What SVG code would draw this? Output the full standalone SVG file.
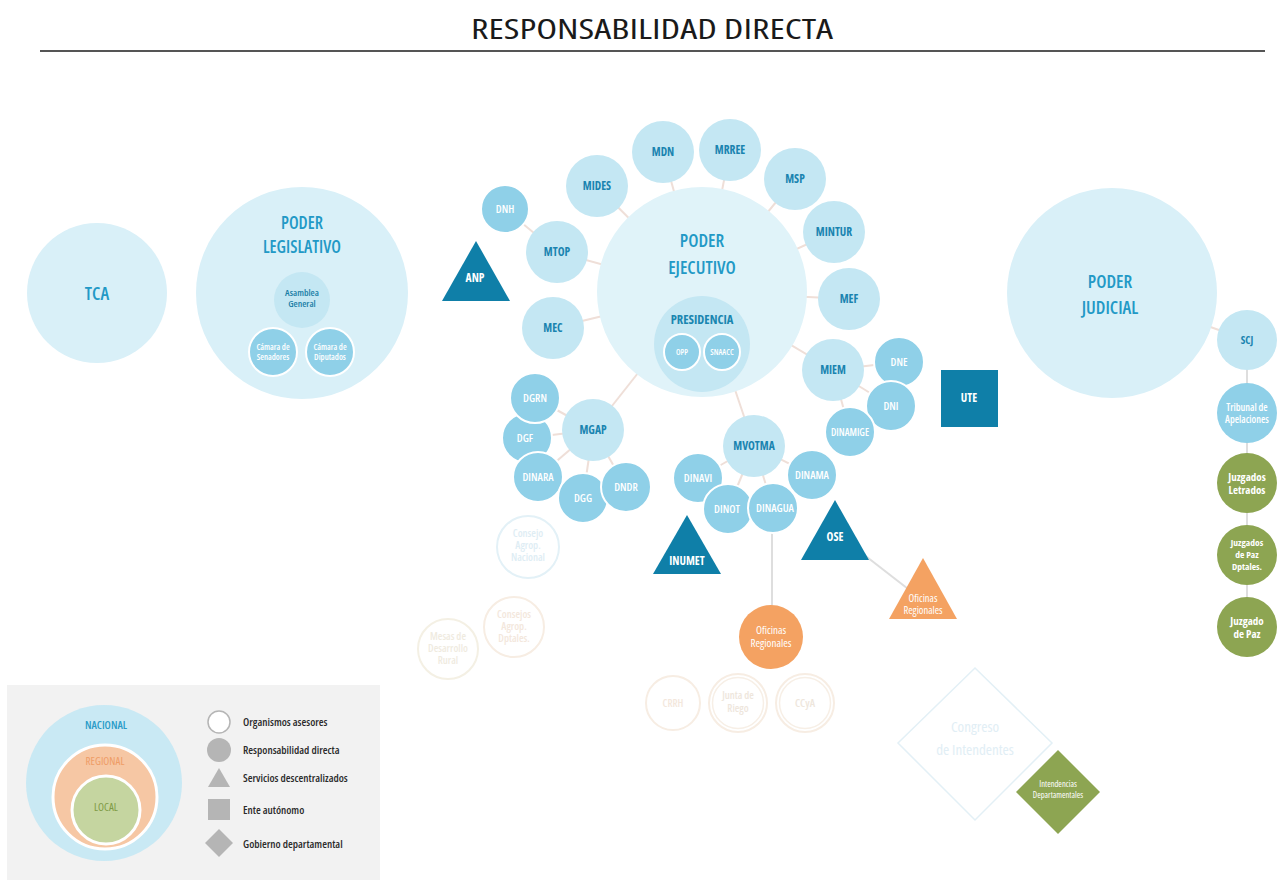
<svg xmlns="http://www.w3.org/2000/svg" width="1285" height="880" viewBox="0 0 1285 880">
  <style>
    text { font-family: "Open Sans", "Liberation Sans", sans-serif; font-stretch: 75%; text-anchor: middle; }
    .title { font-size: 28px; fill: #1a1a1a; font-weight: 500; font-stretch: 87.5%; }
    .big { fill: #d9f0f8; }
    .pe { fill: #e0f3f9; }
    .mid { fill: #c4e7f3; }
    .sub { fill: #8fd0e8; stroke: #ffffff; stroke-width: 2; }
    .dark { fill: #0f7fa8; }
    .orange { fill: #f4a262; }
    .green { fill: #8da552; }
    .bigtxt { font-size: 18px; fill: #2299c6; font-weight: 600; }
    .mtxt { font-size: 11.5px; fill: #1a84b0; font-weight: 700; }
    .stxt { font-size: 11px; fill: #ffffff; font-weight: 600; }
    .wtxt { font-size: 11.5px; fill: #ffffff; font-weight: 700; }
    .conn line { stroke: #efdfd8; stroke-width: 2; }
    .conn .gray { stroke: #dedede; }
    .faint-b { fill: none; stroke: #e3f1f7; stroke-width: 2; }
    .faint-o { fill: none; stroke: #f7ede3; stroke-width: 2; }
    .ftxt-b { font-size: 10.5px; fill: #deedf4; font-weight: 600; }
    .ftxt-o { font-size: 10.5px; fill: #f3e7dc; font-weight: 600; }
    .legtxt { font-size: 11px; fill: #2b2b2b; font-weight: 600; text-anchor: start; }
    .legshape { fill: #b5b5b5; }
  </style>

  <rect width="1285" height="880" fill="#ffffff"/>

  <!-- heading -->
  <g id="heading">
    <text class="title" x="652" y="39" textLength="362" lengthAdjust="spacingAndGlyphs">RESPONSABILIDAD DIRECTA</text>
    <line x1="40" y1="51" x2="1265" y2="51" stroke="#555555" stroke-width="2"/>
  </g>

  <!-- connectors (drawn under the nodes; only the gaps show) -->
  <g id="connectors" class="conn">
    <line x1="702" y1="292" x2="663" y2="152"/>
    <line x1="702" y1="292" x2="730" y2="150"/>
    <line x1="702" y1="292" x2="795" y2="179"/>
    <line x1="702" y1="292" x2="834" y2="232"/>
    <line x1="702" y1="292" x2="849" y2="299"/>
    <line x1="702" y1="292" x2="833" y2="370"/>
    <line x1="702" y1="292" x2="597" y2="186"/>
    <line x1="702" y1="292" x2="557" y2="252"/>
    <line x1="702" y1="292" x2="553" y2="328"/>
    <line x1="702" y1="292" x2="593" y2="430"/>
    <line x1="702" y1="292" x2="754" y2="446"/>
    <line x1="557" y1="252" x2="505" y2="209"/>
    <line x1="833" y1="370" x2="899" y2="362"/>
    <line x1="833" y1="370" x2="891" y2="406"/>
    <line x1="833" y1="370" x2="850" y2="432"/>
    <line x1="593" y1="430" x2="535" y2="398"/>
    <line x1="593" y1="430" x2="527" y2="438"/>
    <line x1="593" y1="430" x2="538" y2="477"/>
    <line x1="593" y1="430" x2="583" y2="498"/>
    <line x1="593" y1="430" x2="626" y2="487"/>
    <line x1="754" y1="446" x2="698" y2="478"/>
    <line x1="754" y1="446" x2="728" y2="509"/>
    <line x1="754" y1="446" x2="773" y2="508"/>
    <line x1="754" y1="446" x2="812" y2="475"/>
    <line class="gray" x1="772" y1="508" x2="772" y2="637"/>
    <line class="gray" x1="845" y1="540" x2="912" y2="592"/>
    <line x1="1112" y1="292" x2="1247" y2="340"/>
    <line class="gray" x1="1247" y1="340" x2="1247" y2="627"/>
  </g>

  <!-- TCA -->
  <g id="tca">
    <circle class="big" cx="97" cy="293" r="70"/>
    <text class="bigtxt" x="97" y="300" style="font-size:18px">TCA</text>
  </g>

  <!-- Poder Legislativo -->
  <g id="poder-legislativo">
    <circle class="big" cx="302" cy="293" r="106"/>
    <text class="bigtxt" x="302" y="229" style="font-size:17px">PODER</text>
    <text class="bigtxt" x="302" y="253" style="font-size:17px">LEGISLATIVO</text>
  </g>
  <g id="asamblea-general">
    <circle class="mid" cx="302" cy="300" r="28"/>
    <text x="302" y="296" style="font-size:9.5px;fill:#1a7ea6;font-weight:600">Asamblea</text>
    <text x="302" y="307" style="font-size:9.5px;fill:#1a7ea6;font-weight:600">General</text>
  </g>
  <g id="camara-senadores">
    <circle class="sub" cx="273" cy="352" r="24"/>
    <text x="273" y="350" style="font-size:8.5px;fill:#fff;font-weight:600">Cámara de</text>
    <text x="273" y="360" style="font-size:8.5px;fill:#fff;font-weight:600">Senadores</text>
  </g>
  <g id="camara-diputados">
    <circle class="sub" cx="330" cy="352" r="24"/>
    <text x="330" y="350" style="font-size:8.5px;fill:#fff;font-weight:600">Cámara de</text>
    <text x="330" y="360" style="font-size:8.5px;fill:#fff;font-weight:600">Diputados</text>
  </g>

  <!-- Poder Ejecutivo -->
  <g id="poder-ejecutivo">
    <circle class="pe" cx="702" cy="292" r="105"/>
    <text class="bigtxt" x="702" y="247">PODER</text>
    <text class="bigtxt" x="702" y="274">EJECUTIVO</text>
  </g>
  <g id="presidencia">
    <circle class="mid" cx="702" cy="344" r="48"/>
    <text x="702" y="324" style="font-size:12.5px;fill:#1a86b0;font-weight:700">PRESIDENCIA</text>
  </g>
  <g id="opp">
    <circle class="sub" cx="682" cy="352" r="18"/>
    <text x="682" y="355" style="font-size:8px;fill:#fff;font-weight:600">OPP</text>
  </g>
  <g id="snaacc">
    <circle class="sub" cx="722" cy="352" r="18"/>
    <text x="722" y="355" style="font-size:8px;fill:#fff;font-weight:600">SNAACC</text>
  </g>

  <!-- ministries -->
  <g id="mdn"><circle class="mid" cx="663" cy="152" r="31"/><text class="mtxt" x="663" y="156">MDN</text></g>
  <g id="mrree"><circle class="mid" cx="730" cy="150" r="31"/><text class="mtxt" x="730" y="154">MRREE</text></g>
  <g id="msp"><circle class="mid" cx="795" cy="179" r="31"/><text class="mtxt" x="795" y="183">MSP</text></g>
  <g id="mintur"><circle class="mid" cx="834" cy="232" r="31"/><text class="mtxt" x="834" y="236">MINTUR</text></g>
  <g id="mef"><circle class="mid" cx="849" cy="299" r="31"/><text class="mtxt" x="849" y="303">MEF</text></g>
  <g id="miem"><circle class="mid" cx="833" cy="370" r="31"/><text class="mtxt" x="833" y="374">MIEM</text></g>
  <g id="mides"><circle class="mid" cx="597" cy="186" r="31"/><text class="mtxt" x="597" y="190">MIDES</text></g>
  <g id="mtop"><circle class="mid" cx="557" cy="252" r="31"/><text class="mtxt" x="557" y="256">MTOP</text></g>
  <g id="mec"><circle class="mid" cx="553" cy="328" r="31"/><text class="mtxt" x="553" y="332">MEC</text></g>
  <g id="mgap"><circle class="mid" cx="593" cy="430" r="31"/><text class="mtxt" x="593" y="434">MGAP</text></g>
  <g id="mvotma"><circle class="mid" cx="754" cy="446" r="31"/><text class="mtxt" x="754" y="450">MVOTMA</text></g>

  <!-- directorates -->
  <g id="dnh"><circle class="sub" cx="505" cy="209" r="24"/><text class="stxt" x="505" y="213">DNH</text></g>
  <g id="dne"><circle class="sub" cx="899" cy="362" r="25"/><text class="stxt" x="899" y="366">DNE</text></g>
  <g id="dni"><circle class="sub" cx="891" cy="406" r="25"/><text class="stxt" x="891" y="410">DNI</text></g>
  <g id="dinamige"><circle class="sub" cx="850" cy="432" r="25"/><text class="stxt" x="850" y="436" style="font-size:10px">DINAMIGE</text></g>
  <g id="dgf"><circle class="sub" cx="527" cy="438" r="25"/><text class="stxt" x="525" y="442">DGF</text></g>
  <g id="dgrn"><circle class="sub" cx="535" cy="398" r="25"/><text class="stxt" x="535" y="402">DGRN</text></g>
  <g id="dinara"><circle class="sub" cx="538" cy="477" r="25"/><text class="stxt" x="538" y="481">DINARA</text></g>
  <g id="dgg"><circle class="sub" cx="583" cy="498" r="25"/><text class="stxt" x="583" y="502">DGG</text></g>
  <g id="dndr"><circle class="sub" cx="626" cy="487" r="25"/><text class="stxt" x="626" y="491">DNDR</text></g>
  <g id="dinavi"><circle class="sub" cx="698" cy="478" r="25"/><text class="stxt" x="698" y="482">DINAVI</text></g>
  <g id="dinot"><circle class="sub" cx="728" cy="509" r="25"/><text class="stxt" x="727" y="513">DINOT</text></g>
  <g id="dinagua"><circle class="sub" cx="773" cy="508" r="25"/><text class="stxt" x="775" y="512">DINAGUA</text></g>
  <g id="dinama"><circle class="sub" cx="812" cy="475" r="25"/><text class="stxt" x="812" y="479">DINAMA</text></g>

  <!-- decentralised services and autonomous entity -->
  <g id="anp">
    <polygon class="dark" points="476,241 510,301 442,301"/>
    <text class="wtxt" x="475" y="282">ANP</text>
  </g>
  <g id="inumet">
    <polygon class="dark" points="687,515 721,574 653,574"/>
    <text class="wtxt" x="687" y="565">INUMET</text>
  </g>
  <g id="ose">
    <polygon class="dark" points="835,500 869,560 801,560"/>
    <text class="wtxt" x="835" y="541">OSE</text>
  </g>
  <g id="ute">
    <rect class="dark" x="941" y="370" width="57" height="57"/>
    <text class="wtxt" x="969" y="402">UTE</text>
  </g>

  <!-- regional offices -->
  <g id="oficinas-regionales-ose">
    <polygon class="orange" points="923,558 957,619 889,619"/>
    <text x="923" y="602" style="font-size:10.5px;fill:#fff;font-weight:500">Oficinas</text>
    <text x="923" y="614" style="font-size:10.5px;fill:#fff;font-weight:500">Regionales</text>
  </g>
  <g id="oficinas-regionales-dinagua">
    <circle class="orange" cx="771" cy="637" r="32"/>
    <text x="771" y="634" style="font-size:11px;fill:#fff;font-weight:500">Oficinas</text>
    <text x="771" y="647" style="font-size:11px;fill:#fff;font-weight:500">Regionales</text>
  </g>

  <!-- advisory bodies -->
  <g id="consejo-agrop-nacional">
    <circle class="faint-b" cx="528" cy="547" r="31"/>
    <text class="ftxt-b" x="528" y="537">Consejo</text>
    <text class="ftxt-b" x="528" y="549">Agrop.</text>
    <text class="ftxt-b" x="528" y="561">Nacional</text>
  </g>
  <g id="consejos-agrop-dptales">
    <circle class="faint-o" cx="514" cy="627" r="30"/>
    <text class="ftxt-o" x="514" y="618">Consejos</text>
    <text class="ftxt-o" x="514" y="630">Agrop.</text>
    <text class="ftxt-o" x="514" y="642">Dptales.</text>
  </g>
  <g id="mesas-desarrollo-rural">
    <circle cx="448" cy="649" r="30" fill="none" stroke="#f4f0e4" stroke-width="2"/>
    <text x="448" y="640" style="font-size:10.5px;fill:#efebdf;font-weight:600">Mesas de</text>
    <text x="448" y="652" style="font-size:10.5px;fill:#efebdf;font-weight:600">Desarrollo</text>
    <text x="448" y="664" style="font-size:10.5px;fill:#efebdf;font-weight:600">Rural</text>
  </g>
  <g id="crrh">
    <circle class="faint-o" cx="673" cy="703" r="27"/>
    <text class="ftxt-o" x="673" y="707">CRRH</text>
  </g>
  <g id="junta-de-riego">
    <circle class="faint-o" cx="738" cy="703" r="29"/>
    <circle cx="738" cy="703" r="25.5" fill="none" stroke="#f7efe6" stroke-width="1.5"/>
    <text x="738" y="699" style="font-size:10.5px;fill:#eee6dc;font-weight:600">Junta de</text>
    <text x="738" y="712" style="font-size:10.5px;fill:#eee6dc;font-weight:600">Riego</text>
  </g>
  <g id="ccya">
    <circle class="faint-o" cx="805" cy="703" r="29"/>
    <circle cx="805" cy="703" r="25.5" fill="none" stroke="#f7efe6" stroke-width="1.5"/>
    <text x="805" y="707" style="font-size:11px;fill:#eee6dc;font-weight:600">CCyA</text>
  </g>

  <!-- departmental government -->
  <g id="congreso-de-intendentes">
    <polygon points="975,668 1052,743 975,820 898,743" fill="none" stroke="#e3f0f6" stroke-width="1.5"/>
    <text x="975" y="732" style="font-size:15px;fill:#e1eef5;font-weight:500">Congreso</text>
    <text x="975" y="755" style="font-size:15px;fill:#e1eef5;font-weight:500">de Intendentes</text>
  </g>
  <g id="intendencias-departamentales">
    <polygon class="green" points="1058,750 1100,792 1058,834 1016,792"/>
    <text x="1058" y="787" style="font-size:8.5px;fill:#fff;font-weight:500">Intendencias</text>
    <text x="1058" y="798" style="font-size:8.5px;fill:#fff;font-weight:500">Departamentales</text>
  </g>

  <!-- Poder Judicial -->
  <g id="poder-judicial">
    <circle class="big" cx="1112" cy="293" r="105"/>
    <text class="bigtxt" x="1110" y="288">PODER</text>
    <text class="bigtxt" x="1110" y="314">JUDICIAL</text>
  </g>
  <g id="scj">
    <circle class="mid" cx="1247" cy="340" r="30"/>
    <text x="1247" y="344" style="font-size:10.5px;fill:#1a84b0;font-weight:700">SCJ</text>
  </g>
  <g id="tribunal-de-apelaciones">
    <circle fill="#8fd0e8" cx="1247" cy="413" r="30"/>
    <text x="1247" y="411" style="font-size:10px;fill:#fff;font-weight:600">Tribunal de</text>
    <text x="1247" y="423" style="font-size:10px;fill:#fff;font-weight:600">Apelaciones</text>
  </g>
  <g id="juzgados-letrados">
    <circle class="green" cx="1247" cy="483" r="30"/>
    <text x="1247" y="481" style="font-size:11px;fill:#fff;font-weight:700">Juzgados</text>
    <text x="1247" y="494" style="font-size:11px;fill:#fff;font-weight:700">Letrados</text>
  </g>
  <g id="juzgados-de-paz-dptales">
    <circle class="green" cx="1247" cy="555" r="30"/>
    <text x="1247" y="546" style="font-size:9.5px;fill:#fff;font-weight:700">Juzgados</text>
    <text x="1247" y="558" style="font-size:9.5px;fill:#fff;font-weight:700">de Paz</text>
    <text x="1247" y="570" style="font-size:9.5px;fill:#fff;font-weight:700">Dptales.</text>
  </g>
  <g id="juzgado-de-paz">
    <circle class="green" cx="1247" cy="627" r="30"/>
    <text x="1247" y="625" style="font-size:11px;fill:#fff;font-weight:700">Juzgado</text>
    <text x="1247" y="638" style="font-size:11px;fill:#fff;font-weight:700">de Paz</text>
  </g>

  <!-- key -->
  <g id="legend">
    <rect x="7" y="685" width="373" height="195" fill="#f2f2f2"/>
    <circle cx="104" cy="783" r="78" fill="#c9e9f4"/>
    <circle cx="105" cy="797" r="52" fill="#f6c7a4" stroke="#ffffff" stroke-width="3"/>
    <circle cx="106" cy="810" r="34" fill="#c5d5a0" stroke="#ffffff" stroke-width="3"/>
    <text x="106" y="729" style="font-size:11px;fill:#2a9cc8;font-weight:600">NACIONAL</text>
    <text x="105" y="765" style="font-size:11px;fill:#ef9c66;font-weight:500">REGIONAL</text>
    <text x="106" y="811" style="font-size:11px;fill:#7f9a45;font-weight:500">LOCAL</text>

    <circle cx="219" cy="722" r="11" fill="#ffffff" stroke="#b5b5b5" stroke-width="1.5"/>
    <circle class="legshape" cx="219" cy="750" r="12"/>
    <polygon class="legshape" points="219,768 230,787 208,787"/>
    <rect class="legshape" x="208" y="799" width="22" height="21"/>
    <polygon class="legshape" points="219,829 233,843 219,857 205,843"/>
    <text class="legtxt" x="243" y="726">Organismos asesores</text>
    <text class="legtxt" x="243" y="754">Responsabilidad directa</text>
    <text class="legtxt" x="243" y="782">Servicios descentralizados</text>
    <text class="legtxt" x="243" y="814">Ente autónomo</text>
    <text class="legtxt" x="243" y="848">Gobierno departamental</text>
  </g>
</svg>
